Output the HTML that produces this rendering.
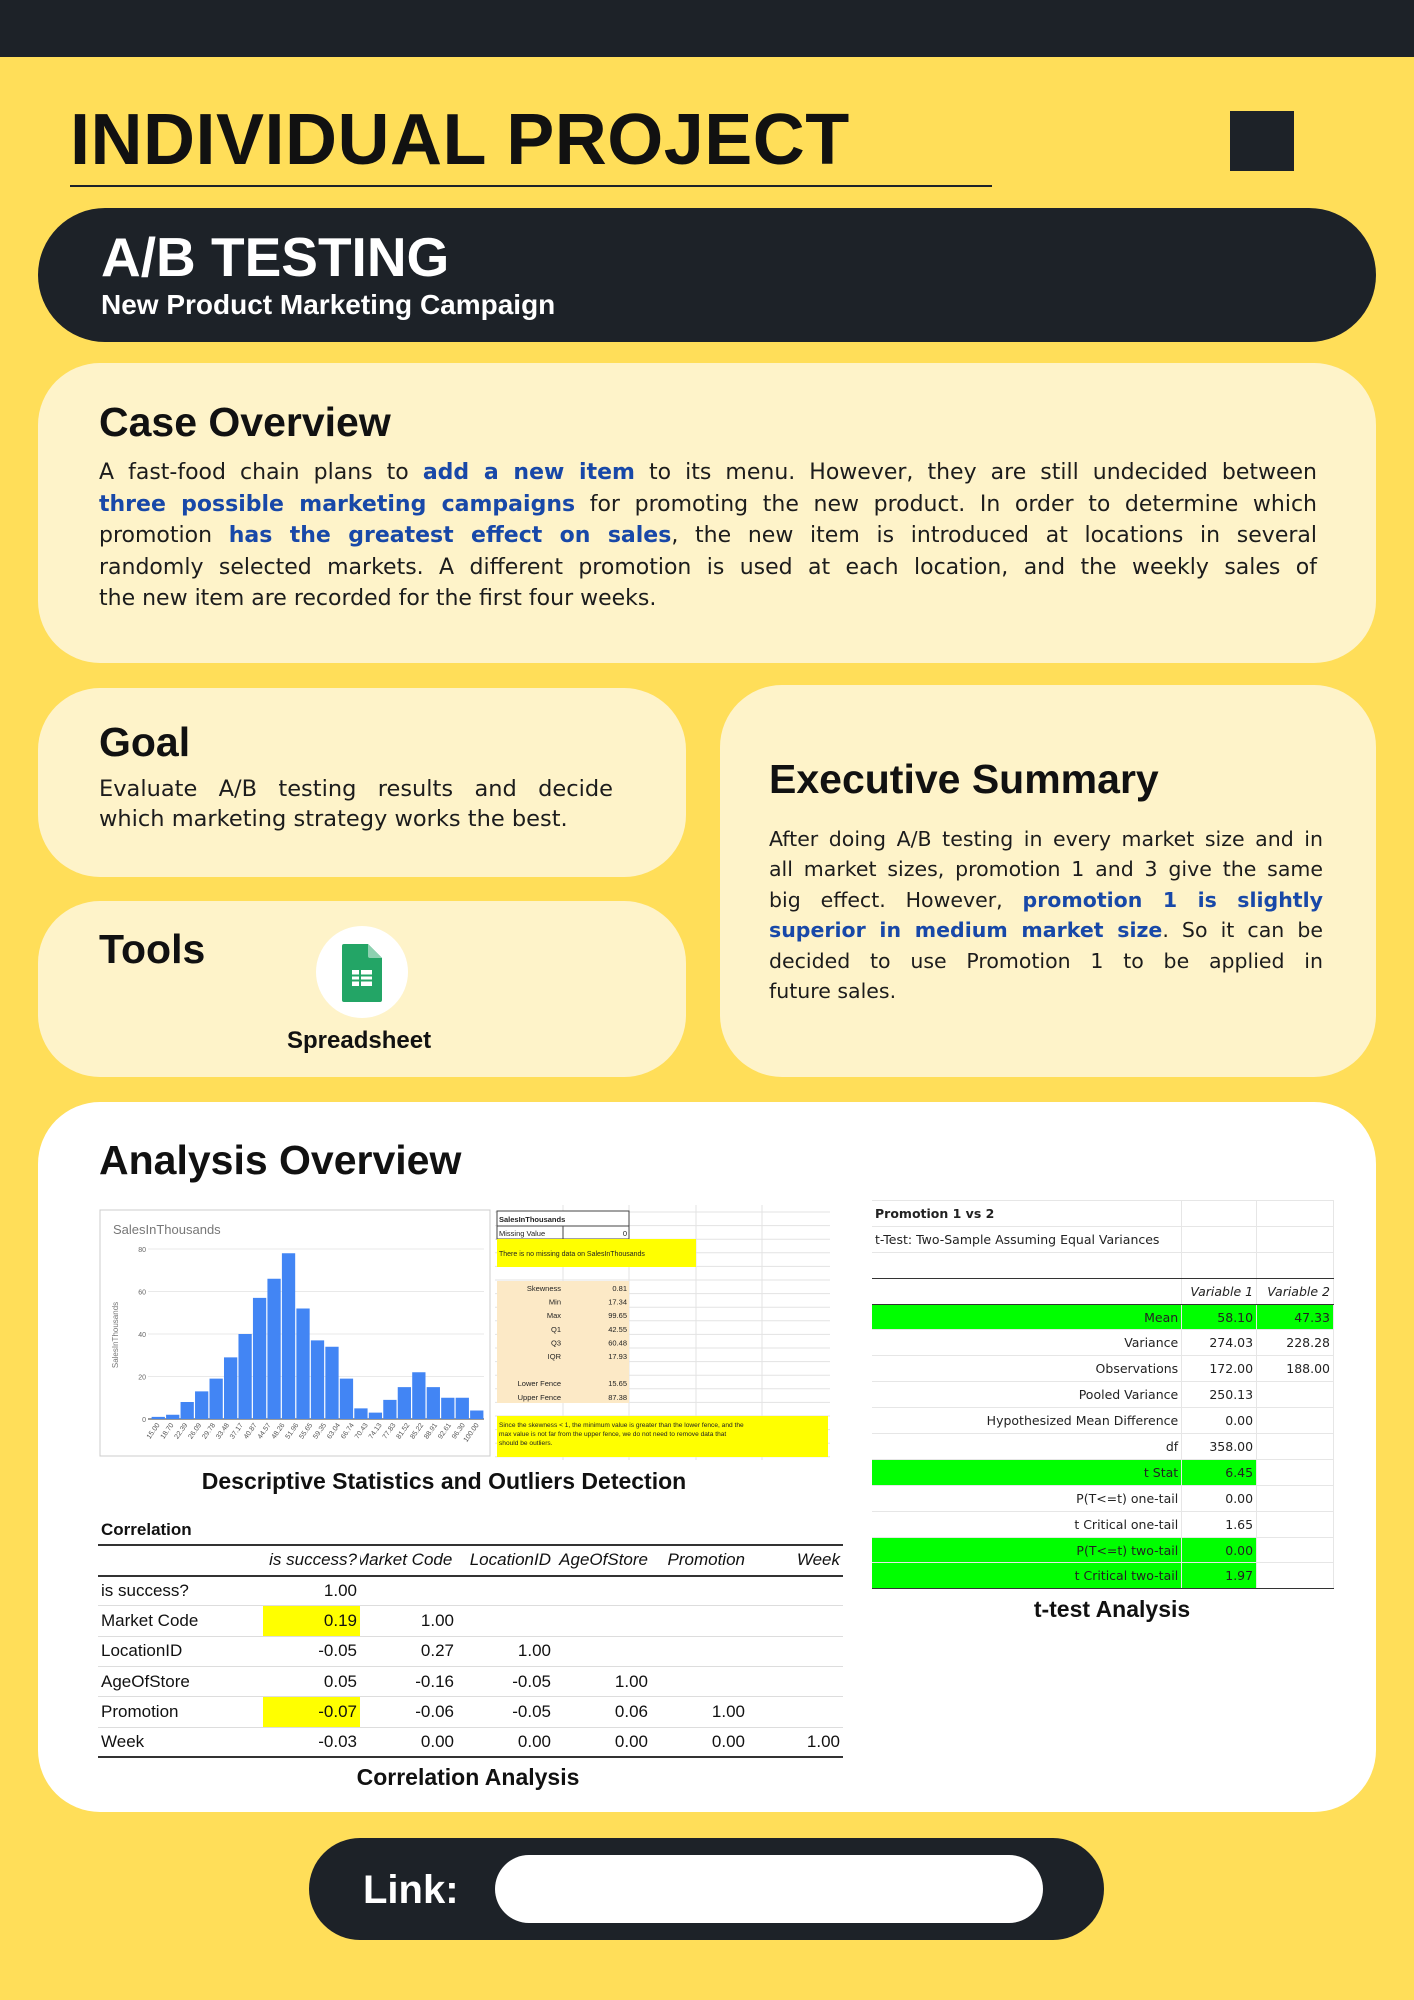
<!DOCTYPE html>
<html><head><meta charset="utf-8">
<style>
*{margin:0;padding:0;box-sizing:border-box}
body{width:1414px;height:2000px;background:#ffde59;position:relative;overflow:hidden;font-family:"Liberation Sans",sans-serif;color:#111}
.abs{position:absolute}
.card{position:absolute;background:#fef3c9;border-radius:62px}
.h{font-weight:bold;color:#111;position:absolute;white-space:nowrap}
.body{position:absolute;font-family:"DejaVu Sans",sans-serif;font-size:22px;line-height:31.5px;color:#1c1c1c}
.ln{display:block;text-align:justify;text-align-last:justify;white-space:nowrap}
.ln.last{text-align-last:left}
.b{color:#1848a8;font-weight:bold}
table{border-collapse:collapse}
.corr td{font-size:17px;height:30.3px;padding:0 3px;border-bottom:1px solid #ddd;white-space:nowrap;overflow:hidden}
.tt td{font-family:"DejaVu Sans",sans-serif;font-size:12.5px;height:25.9px;padding:0 3px;border-bottom:1px solid #e6e6e6;border-right:1px solid #e6e6e6;white-space:nowrap;color:#222}
</style></head><body>
<div class="abs" style="left:0;top:0;width:1414px;height:57px;background:#1d2228"></div>
<div class="h" style="left:70px;top:100px;font-size:72px;line-height:80px;letter-spacing:0.5px">INDIVIDUAL PROJECT</div>
<div class="abs" style="left:70px;top:185px;width:922px;height:2px;background:#1d2228"></div>
<div class="abs" style="left:1230px;top:111px;width:64px;height:60px;background:#1d2228"></div>

<div class="abs" style="left:38px;top:208px;width:1338px;height:134px;background:#1d2228;border-radius:67px">
 <div class="h" style="left:63px;top:17px;font-size:55px;color:#fff;line-height:64px">A/B TESTING</div>
 <div class="h" style="left:63px;top:80px;font-size:28px;color:#fff;line-height:34px">New Product Marketing Campaign</div>
</div>

<div class="card" style="left:38px;top:363px;width:1338px;height:300px">
 <div class="h" style="left:61px;top:34px;font-size:41px;line-height:50px">Case Overview</div>
 <div class="body" style="left:61px;top:94px;width:1218px">
  <span class="ln">A fast-food chain plans to <span class="b">add a new item</span> to its menu. However, they are still undecided between</span>
  <span class="ln"><span class="b">three possible marketing campaigns</span> for promoting the new product. In order to determine which</span>
  <span class="ln">promotion <span class="b">has the greatest effect on sales</span>, the new item is introduced at locations in several</span>
  <span class="ln">randomly selected markets. A different promotion is used at each location, and the weekly sales of</span>
  <span class="ln last">the new item are recorded for the first four weeks.</span>
 </div>
</div>

<div class="card" style="left:38px;top:688px;width:648px;height:189px">
 <div class="h" style="left:61px;top:29px;font-size:41px;line-height:50px">Goal</div>
 <div class="body" style="left:61px;top:86px;width:514px;line-height:30px;font-size:22.5px">
  <span class="ln">Evaluate A/B testing results and decide</span>
  <span class="ln last">which marketing strategy works the best.</span>
 </div>
</div>

<div class="card" style="left:38px;top:901px;width:648px;height:176px">
 <div class="h" style="left:61px;top:23px;font-size:41px;line-height:50px">Tools</div>
 <div class="abs" style="left:278px;top:25px;width:92px;height:92px;border-radius:50%;background:#fff">
  <svg width="92" height="92" viewBox="0 0 92 92">
   <path d="M28 18 h24 l14 14 v42 a2 2 0 0 1 -2 2 h-36 a2 2 0 0 1 -2 -2 v-54 a2 2 0 0 1 2 -2z" fill="#23a566"/>
   <path d="M52 18 l14 14 h-12 a2 2 0 0 1 -2 -2z" fill="#8ed1b1"/>
   <rect x="36" y="44" width="20" height="16" fill="#fff"/>
   <g stroke="#23a566" stroke-width="2"><line x1="36" y1="49.5" x2="56" y2="49.5"/><line x1="36" y1="54.5" x2="56" y2="54.5"/><line x1="44" y1="44" x2="44" y2="60"/></g>
  </svg>
 </div>
 <div class="h" style="left:249px;top:125px;font-size:24px;line-height:30px">Spreadsheet</div>
</div>

<div class="card" style="left:720px;top:685px;width:656px;height:392px">
 <div class="h" style="left:49px;top:69px;font-size:41px;line-height:50px">Executive Summary</div>
 <div class="body" style="left:49px;top:139px;width:554px;line-height:30.4px;font-size:20.5px">
  <span class="ln">After doing A/B testing in every market size and in</span>
  <span class="ln">all market sizes, promotion 1 and 3 give the same</span>
  <span class="ln">big effect. However, <span class="b">promotion 1 is slightly</span></span>
  <span class="ln"><span class="b">superior in medium market size</span>. So it can be</span>
  <span class="ln">decided to use Promotion 1 to be applied in</span>
  <span class="ln last">future sales.</span>
 </div>
</div>

<div class="abs" style="left:38px;top:1102px;width:1338px;height:710px;background:#fff;border-radius:62px"></div>
<div class="h" style="left:99px;top:1135px;font-size:41px;line-height:50px">Analysis Overview</div>

<svg class="abs" style="left:99px;top:1200px" width="731" height="260" viewBox="99 1200 731 260" font-family="Liberation Sans, sans-serif">
 <g id="grid" stroke="#e3e3e3" stroke-width="1"></g>
 <rect x="100" y="1210" width="390" height="246" fill="#fff" stroke="#ccc"/>
 <text x="113" y="1234" font-size="13" fill="#777">SalesInThousands</text>
 <text x="0" y="0" font-size="8" fill="#777" transform="translate(118,1335) rotate(-90)" text-anchor="middle">SalesInThousands</text>
 <g id="yaxis"></g><g id="bars"></g><g id="xlabels"></g>
 <g id="stats"></g>
</svg>
<div class="h" style="left:444px;top:1467px;transform:translateX(-50%);font-size:23px;line-height:28px">Descriptive Statistics and Outliers Detection</div>

<table class="corr abs" style="left:98px;top:1515px;width:745px">
 <colgroup><col style="width:165px"><col style="width:97px"><col style="width:97px"><col style="width:97px"><col style="width:97px"><col style="width:97px"><col style="width:95px"></colgroup>
 <tr style="border-bottom:2px solid #333"><td style="font-weight:bold;height:25px;border-bottom:2px solid #333">Correlation</td><td style="border-bottom:2px solid #333"></td><td style="border-bottom:2px solid #333"></td><td style="border-bottom:2px solid #333"></td><td style="border-bottom:2px solid #333"></td><td style="border-bottom:2px solid #333"></td><td style="border-bottom:2px solid #333"></td></tr>
 <tr style="font-style:italic;text-align:right"><td style="border-bottom:2px solid #333"></td><td style="border-bottom:2px solid #333">is success?</td><td style="border-bottom:2px solid #333;text-align:left;text-indent:-8px">Market Code</td><td style="border-bottom:2px solid #333">LocationID</td><td style="border-bottom:2px solid #333">AgeOfStore</td><td style="border-bottom:2px solid #333">Promotion</td><td style="border-bottom:2px solid #333">Week</td></tr>
 <tr style="text-align:right"><td style="text-align:left">is success?</td><td>1.00</td><td></td><td></td><td></td><td></td><td></td></tr>
 <tr style="text-align:right"><td style="text-align:left">Market Code</td><td style="background:#ffff00">0.19</td><td>1.00</td><td></td><td></td><td></td><td></td></tr>
 <tr style="text-align:right"><td style="text-align:left">LocationID</td><td>-0.05</td><td>0.27</td><td>1.00</td><td></td><td></td><td></td></tr>
 <tr style="text-align:right"><td style="text-align:left">AgeOfStore</td><td>0.05</td><td>-0.16</td><td>-0.05</td><td>1.00</td><td></td><td></td></tr>
 <tr style="text-align:right"><td style="text-align:left">Promotion</td><td style="background:#ffff00">-0.07</td><td>-0.06</td><td>-0.05</td><td>0.06</td><td>1.00</td><td></td></tr>
 <tr style="text-align:right"><td style="text-align:left;border-bottom:2px solid #333">Week</td><td style="border-bottom:2px solid #333">-0.03</td><td style="border-bottom:2px solid #333">0.00</td><td style="border-bottom:2px solid #333">0.00</td><td style="border-bottom:2px solid #333">0.00</td><td style="border-bottom:2px solid #333">0.00</td><td style="border-bottom:2px solid #333">1.00</td></tr>
</table>
<div class="h" style="left:468px;top:1763px;transform:translateX(-50%);font-size:23px;line-height:28px">Correlation Analysis</div>

<table class="tt abs" style="left:872px;top:1200px;width:462px;border-top:1px solid #e6e6e6">
 <colgroup><col style="width:310px"><col style="width:75px"><col style="width:77px"></colgroup>
 <tr><td style="font-weight:bold">Promotion 1 vs 2</td><td></td><td></td></tr>
 <tr><td>t-Test: Two-Sample Assuming Equal Variances</td><td></td><td></td></tr>
 <tr><td style="border-bottom:1.5px solid #333"></td><td style="border-bottom:1.5px solid #333"></td><td style="border-bottom:1.5px solid #333"></td></tr>
 <tr style="font-style:italic;text-align:right"><td style="border-bottom:1.5px solid #333"></td><td style="border-bottom:1.5px solid #333">Variable 1</td><td style="border-bottom:1.5px solid #333">Variable 2</td></tr>
 <tr style="text-align:right;background:#00ff00"><td>Mean</td><td>58.10</td><td>47.33</td></tr>
 <tr style="text-align:right"><td>Variance</td><td>274.03</td><td>228.28</td></tr>
 <tr style="text-align:right"><td>Observations</td><td>172.00</td><td>188.00</td></tr>
 <tr style="text-align:right"><td>Pooled Variance</td><td>250.13</td><td></td></tr>
 <tr style="text-align:right"><td>Hypothesized Mean Difference</td><td>0.00</td><td></td></tr>
 <tr style="text-align:right"><td>df</td><td>358.00</td><td></td></tr>
 <tr style="text-align:right"><td style="background:#00ff00">t Stat</td><td style="background:#00ff00">6.45</td><td></td></tr>
 <tr style="text-align:right"><td>P(T&lt;=t) one-tail</td><td>0.00</td><td></td></tr>
 <tr style="text-align:right"><td>t Critical one-tail</td><td>1.65</td><td></td></tr>
 <tr style="text-align:right"><td style="background:#00ff00">P(T&lt;=t) two-tail</td><td style="background:#00ff00">0.00</td><td></td></tr>
 <tr style="text-align:right"><td style="background:#00ff00;border-bottom:1.5px solid #333">t Critical two-tail</td><td style="background:#00ff00;border-bottom:1.5px solid #333">1.97</td><td style="border-bottom:1.5px solid #333"></td></tr>
</table>
<div class="h" style="left:1112px;top:1595px;transform:translateX(-50%);font-size:23px;line-height:28px">t-test Analysis</div>

<div class="abs" style="left:309px;top:1838px;width:795px;height:102px;background:#1d2228;border-radius:51px">
 <div class="h" style="left:54px;top:30px;font-size:40px;line-height:44px;color:#fff">Link:</div>
 <div class="abs" style="left:186px;top:17px;width:548px;height:68px;background:#fff;border-radius:34px"></div>
</div>

<script>
const binValues=[1,2,8,13,19,29,40,57,66,78,52,37,34,19,5,3,9,15,22,15,10,10,4];
const binLabels=["15.00","18.70","22.39","26.09","29.78","33.48","37.17","40.87","44.57","48.26","51.96","55.65","59.35","63.04","66.74","70.43","74.13","77.83","81.52","85.22","88.91","92.61","96.30","100.00"];
const yTicks=[0,20,40,60,80];
const statLabels=["Skewness","Min","Max","Q1","Q3","IQR","","Lower Fence","Upper Fence"];
const statValues=["0.81","17.34","99.65","42.55","60.48","17.93","","15.65","87.38"];

const NS="http://www.w3.org/2000/svg";
const px0=151,px1=484,py0=1419,py1=1249,yMax=80;
function yS(v){return py0-(v/yMax)*(py0-py1);}
function xS(i){return px0+i*(px1-px0)/binValues.length;}
function mk(tag,attrs,parent){const e=document.createElementNS(NS,tag);for(const k in attrs)e.setAttribute(k,attrs[k]);parent.appendChild(e);return e;}

const grid=document.getElementById('grid');
[563,629,696,762].forEach(x=>{const l=mk('line',{x1:x,y1:1205,x2:x,y2:1460},grid);});
for(let y=1212;y<1460;y+=13.6){const l=mk('line',{x1:495,y1:y,x2:830,y2:y},grid);}

const ya=document.getElementById('yaxis');
yTicks.forEach(t=>{
 const l=mk('line',{x1:px0-3,y1:yS(t),x2:px1,y2:yS(t),stroke:t===0?'#333':'#e2e2e2','stroke-width':t===0?1:0.8},ya);
 
 
 const tx=mk('text',{x:px0-5,y:yS(t)+3,'font-size':7,fill:'#666','text-anchor':'end'},ya);
 tx.textContent=t;
 
 
});
const bars=document.getElementById('bars');
const bw=(px1-px0)/binValues.length;
binValues.forEach((v,i)=>{
 const r=mk('rect',{x:xS(i)+0.6,y:yS(v),width:bw-1.2,height:py0-yS(v),fill:'#4285f4'},bars);
 
 
});
const xl=document.getElementById('xlabels');
const lw=(px1-px0)/binLabels.length;
binLabels.forEach((s,i)=>{
 const x=px0+(i+0.5)*lw;
 const t=mk('text',{x:0,y:0,'font-size':7,fill:'#555','text-anchor':'end',transform:`translate(${x+2},${py0+6}) rotate(-55)`},xl);
 t.textContent=s;
 
 
});

const st=document.getElementById('stats');
function box(x,y,w,h,fill,stroke,name){const r=mk('rect',{x:x,y:y,width:w,height:h,fill:fill,stroke:stroke||'none'},st);return r;}
function txt(x,y,s,anchor,size,weight,name){const t=mk('text',{x:x,y:y,'font-size':size||7.5,fill:'#222','text-anchor':anchor||'start','font-weight':weight||'normal'},st);t.textContent=s;return t;}
box(497,1211,132,15,'#fff','#444','stats-header-cell');
box(497,1226,132,13,'#fff','#444','missing-value-row');
mk('line',{x1:563,y1:1226,x2:563,y2:1239,stroke:'#444'},st);
txt(499,1222,'SalesInThousands','start',7.5,'bold','stats-header');
txt(499,1236,'Missing Value','start',7.5,'normal','missing-value-label');
txt(627,1236,'0','end',7.5,'normal','missing-value');
box(497,1239,199,28,'#ffff00',null,'missing-note-box');
txt(499,1256,'There is no missing data on SalesInThousands','start',7,'normal','missing-note');
box(497,1281,132,122,'#fce9c6',null,'stats-block');
statLabels.forEach((s,i)=>{
 const y=1281+i*13.6+10;
 if(s){txt(561,y,s,'end',7.5,'normal','stat-label');txt(627,y,statValues[i],'end',7.5,'normal','stat-value');}
});
box(497,1416,331,41,'#ffff00',null,'outlier-note-box');
txt(499,1427,'Since the skewness < 1, the minimum value is greater than the lower fence, and the','start',6.6,'normal','outlier-note-line');
txt(499,1436,'max value is not far from the upper fence, we do not need to remove data that','start',6.6,'normal','outlier-note-line');
txt(499,1445,'should be outliers.','start',6.6,'normal','outlier-note-line');
</script>
</body></html>
